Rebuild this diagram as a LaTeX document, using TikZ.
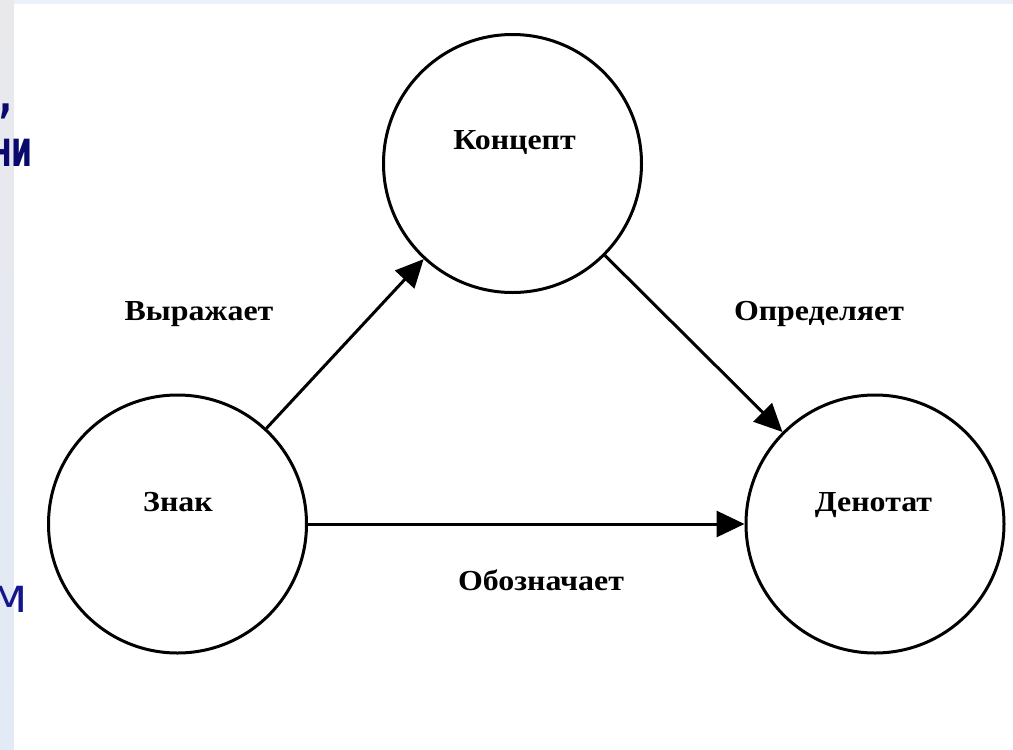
\documentclass[tikz,border=0pt]{standalone}
\usepackage{fontspec}
\setmainfont{Liberation Serif}
\newfontfamily\slidefont{DejaVu Sans}
\usetikzlibrary{arrows.meta}
\definecolor{slideblue}{RGB}{10,10,110}
\definecolor{slideblueb}{RGB}{22,22,140}
\definecolor{stripgrey}{RGB}{233,233,236}
\definecolor{stripblue}{RGB}{226,234,246}
\begin{document}
\begin{tikzpicture}[x=1pt,y=-1pt,
  concept/.style={circle, draw=black, line width=3pt, minimum size=258pt, inner sep=0pt},
  caption/.style={font=\fontsize{29}{34}\selectfont\bfseries, inner sep=0pt, anchor=base, xscale=1.1},
  relation/.style={draw=black, line width=3pt, -{Triangle[length=28pt,width=26pt]}},
  slidetext/.style={inner sep=0pt, anchor=base east}]
\useasboundingbox (0,0) rectangle (1013,750);
% slide background around the figure
\shade[top color=stripgrey, bottom color=stripblue] (0,0) rectangle (14,750);
\fill[stripblue!70!white] (14,0) rectangle (1013,4);
\fill[white] (14,4) rectangle (1013,750);
% slide text left of the figure
\node[slidetext, text=slideblue, xscale=0.75, font=\slidefont\bfseries\fontsize{46}{56}\selectfont] (t1) at (13,112) {,};
\node[slidetext, text=slideblue, xscale=0.6, font=\slidefont\bfseries\fontsize{50}{56}\selectfont] (t2) at (33,166) {ни};
\node[slidetext, text=slideblueb, font=\slidefont\fontsize{48}{56}\selectfont] (t3) at (28,612) {м};
% the three concepts
\node[concept] (koncept) at (512.5,163.5) {};
\node[concept] (znak) at (177.5,524) {};
\node[concept] (denotat) at (875,524) {};
\node[caption] (konceptt) at (514.5,149) {Концепт};
\node[caption] (znakt) at (178,511) {Знак};
\node[caption] (denotatt) at (873.5,511) {Денотат};
% relations between them
\draw[relation] (znak) -- (koncept);
\draw[relation] (koncept) -- (denotat);
\draw[relation] (znak) -- (denotat);
\node[caption] (vyr) at (199,320) {Выражает};
\node[caption] (opr) at (819,320) {Определяет};
\node[caption] (obo) at (541,590) {Обозначает};
\end{tikzpicture}
\end{document}
